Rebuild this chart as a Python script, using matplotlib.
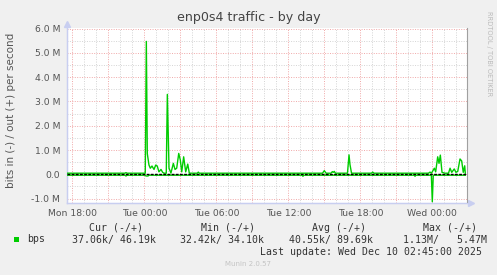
import numpy as np
import matplotlib.pyplot as plt

# Данные (время в часах от Tue 00:00, значения в Mbit/s)
out_hours = [-6.47, -1.61, -1.53, -1.44, 0.08, 0.17, 0.25, 0.39, 0.50, 0.64, 0.81,
             0.95, 1.08, 1.22, 1.39, 1.53, 1.64, 1.83, 1.92, 2.06, 2.22, 2.42,
             2.56, 2.70, 2.87, 3.00, 3.12, 3.28, 3.45, 3.62, 3.75, 4.42, 4.50,
             4.58, 14.85, 15.00, 15.15, 15.56, 15.67, 15.75, 15.83, 15.93, 16.93,
             17.06, 17.14, 17.27, 18.93, 19.03, 19.14, 23.68, 23.81, 23.93, 24.17,
             24.28, 24.45, 24.56, 24.67, 24.81, 25.06, 25.35, 25.48, 25.62, 25.83,
             25.97, 26.12, 26.31, 26.45, 26.58, 26.70, 26.75]
out_values = [0.045, 0.045, 0.07, 0.045, 0.045, 5.47, 0.85, 0.38, 0.25, 0.34, 0.20,
              0.38, 0.34, 0.10, 0.20, 0.08, 0.045, 0.045, 3.29, 0.25, 0.05, 0.45,
              0.20, 0.25, 0.86, 0.59, 0.10, 0.72, 0.10, 0.42, 0.045, 0.045, 0.09,
              0.045, 0.045, 0.15, 0.045, 0.045, 0.11, 0.08, 0.12, 0.045, 0.045,
              0.80, 0.40, 0.045, 0.045, 0.09, 0.045, 0.045, 0.09, 0.045, 0.25,
              0.10, 0.72, 0.45, 0.79, 0.08, 0.045, 0.045, 0.25, 0.08, 0.22,
              0.08, 0.12, 0.63, 0.55, 0.08, 0.35, 0.046]

in_hours = [-6.47, -1.61, -1.53, -1.44, 0.06, 0.14, 0.31, 0.39, 13.14, 13.22, 13.30,
            22.48, 22.56, 22.64, 23.92, 24.00, 24.08, 26.75]
in_values = [-0.037, -0.037, -0.07, -0.037, -0.037, -0.07, -0.07, -0.037, -0.037,
             -0.08, -0.037, -0.037, -0.08, -0.037, -0.037, -1.13, -0.037, -0.037]

y_ticks = [-1, 0, 1, 2, 3, 4, 5, 6]
y_tick_labels = ["-1.0 M", "0.0", "1.0 M", "2.0 M", "3.0 M", "4.0 M", "5.0 M", "6.0 M"]
x_ticks = [-6, 0, 6, 12, 18, 24]
x_tick_labels = ["Mon 18:00", "Tue 00:00", "Tue 06:00", "Tue 12:00", "Tue 18:00", "Wed 00:00"]

legend_headers = ["Cur (-/+)", "Min (-/+)", "Avg (-/+)", "Max (-/+)"]
legend_values = ["37.06k/ 46.19k", "32.42k/ 34.10k", "40.55k/ 89.69k", "1.13M/   5.47M"]

W, H = 497, 275


def px(x, y):
    return x / W, 1 - y / H


green = '#00CC00'
axis_col = '#C8CEF0'

fig = plt.figure(figsize=(W / 100, H / 100), dpi=100, facecolor='#F0F0F0')
left, top, right, bottom = 66.7, 28.3, 466.5, 202.5
ax = fig.add_axes([left / W, 1 - bottom / H, (right - left) / W, (bottom - top) / H])
ax.set_facecolor('white')

x0 = (left - 144.3) / 12
x1 = (right - 144.3) / 12
ax.set_xlim(x0, x1)
ax.set_ylim(-(bottom - 174.3) / 24.29, 6.01)

# Сетка
for h in np.arange(-6, 27, 1):
    c = '#F0A8A8' if h % 3 == 0 else '#D4D4D4'
    ax.axvline(h, color=c, lw=0.7, ls=(0, (1, 1.5)), zorder=1)
for v in np.arange(-1, 6.01, 0.5):
    c = '#F0A8A8' if v == int(v) else '#D4D4D4'
    ax.axhline(v, color=c, lw=0.7, ls=(0, (1, 1.5)), zorder=1)

# Линии
ax.plot(out_hours, out_values, color=green, lw=1.0, zorder=3)
ax.plot(in_hours, in_values, color=green, lw=1.0, zorder=3)
ax.axhline(0, color='black', lw=1.0, ls=(0, (2, 1)), zorder=4)

# Оси
for s in ['top']:
    ax.spines[s].set_visible(False)
ax.spines['right'].set_color('#A0A0A0')
ax.spines['right'].set_linewidth(0.8)
ax.spines['left'].set_color(axis_col)
ax.spines['bottom'].set_color(axis_col)
ax.plot([0, 0], [0, 1.03], color=axis_col, lw=1, transform=ax.transAxes, clip_on=False)
ax.plot([0, 1.012], [0, 0], color=axis_col, lw=1, transform=ax.transAxes, clip_on=False)
ax.plot([0], [1.027], marker='^', ms=5, color=axis_col, transform=ax.transAxes, clip_on=False)
ax.plot([1.012], [0], marker='>', ms=5, color=axis_col, transform=ax.transAxes, clip_on=False)

ax.set_yticks(y_ticks)
ax.set_yticklabels(y_tick_labels)
ax.set_xticks(x_ticks)
ax.set_xticklabels(x_tick_labels)
ax.tick_params(length=0, labelsize=6.7, colors='#555555')
ax.tick_params(axis='y', pad=4.8)
ax.tick_params(axis='x', pad=4.5)

# Тексты
fig.text(*px(248.5, 18), "enp0s4 traffic - by day", ha='center', va='center',
         fontsize=9.1, color='#444444')
fig.text(*px(11, 110.5), "bits in (-) / out (+) per second", rotation=90,
         ha='center', va='center', fontsize=7.5, color='#555555')
fig.text(*px(488.7, 53.5), "RRDTOOL / TOBI OETIKER", rotation=270,
         ha='center', va='center', fontsize=4.8, color='#BBBBBB')

mono = 'DejaVu Sans Mono'
header_x = [89, 201, 312, 423]
value_x = [72, 180, 289, 403]
for hx, t in zip(header_x, legend_headers):
    fig.text(*px(hx, 228), t, family=mono, fontsize=7.15, color='#333333', va='center')
for vx, t in zip(value_x, legend_values):
    fig.text(*px(vx, 239.5), t, family=mono, fontsize=7.15, color='#333333', va='center')
fig.text(*px(27, 239.5), "bps", family=mono, fontsize=7.15, color='#333333', va='center')
fig.patches.append(plt.Rectangle(px(14, 242), 5 / W, 5 / H, transform=fig.transFigure,
                                 facecolor=green, edgecolor='none'))
fig.text(*px(482.5, 252), "Last update: Wed Dec 10 02:45:00 2025", family=mono,
         fontsize=7.15, color='#333333', ha='right', va='center')
fig.text(*px(248, 264.5), "Munin 2.0.57", fontsize=5, color='#C4C4C4',
         ha='center', va='center')

fig.savefig('out.png', dpi=100, facecolor=fig.get_facecolor())
